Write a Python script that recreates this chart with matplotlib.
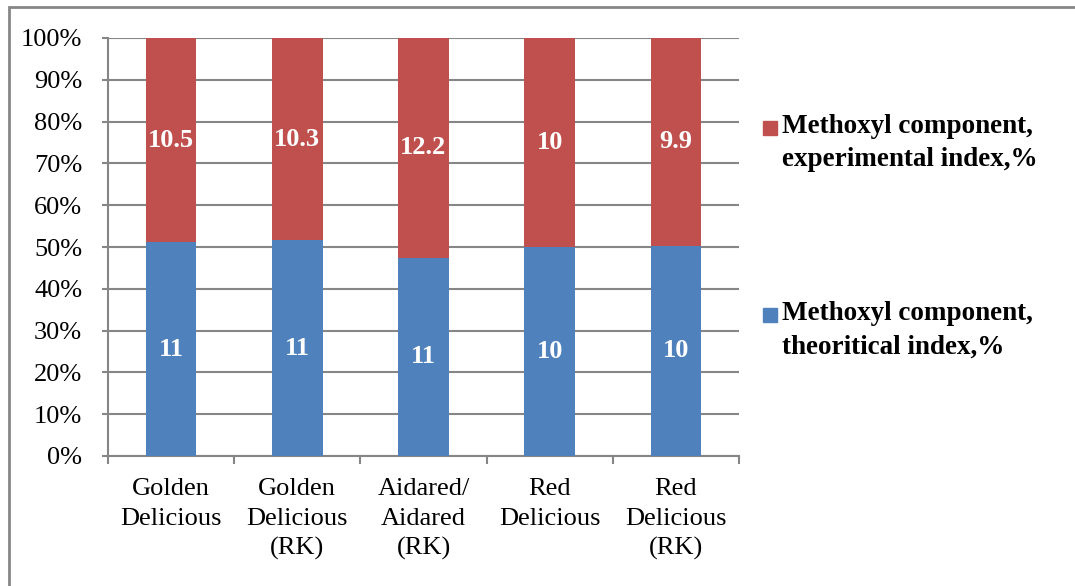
import matplotlib
matplotlib.use("Agg")
import matplotlib.pyplot as plt
import numpy as np
from matplotlib.patches import Rectangle

plt.rcParams['font.family'] = ['Liberation Serif', 'DejaVu Serif']

categories = ["Golden\nDelicious", "Golden\nDelicious\n(RK)", "Aidared/\nAidared\n(RK)",
              "Red\nDelicious", "Red\nDelicious\n(RK)"]
theoretical = [11, 11, 11, 10, 10]
experimental = [10.5, 10.3, 12.2, 10, 9.9]
labels_theo = ["11", "11", "11", "10", "10"]
labels_exp = ["10.5", "10.3", "12.2", "10", "9.9"]

blue = "#4F81BD"
red = "#C0504D"
grid_c = "#868686"

theo = np.array(theoretical, dtype=float)
expe = np.array(experimental, dtype=float)
tot = theo + expe
p_theo = theo / tot * 100
p_exp = expe / tot * 100

fig = plt.figure(figsize=(10.75, 5.86), dpi=100)
ax = fig.add_axes([108 / 1075, 1 - 456 / 586, 631 / 1075, 418 / 586])

x = np.arange(len(categories))
ax.bar(x, p_theo, width=0.4, color=blue, zorder=3)
ax.bar(x, p_exp, width=0.4, bottom=p_theo, color=red, zorder=3)

for i in range(len(x)):
    ax.text(x[i], p_theo[i] / 2, labels_theo[i], ha="center", va="center",
            color="white", fontweight="bold", fontsize=19, zorder=4)
    ax.text(x[i], p_theo[i] + p_exp[i] / 2, labels_exp[i], ha="center", va="center",
            color="white", fontweight="bold", fontsize=19, zorder=4)

ax.set_xlim(-0.5, len(x) - 0.5)
ax.set_ylim(0, 100)
ax.set_yticks(np.arange(0, 101, 10))
ax.set_yticklabels([f"{v}%" for v in range(0, 101, 10)], fontsize=19)
ax.yaxis.grid(True, color=grid_c, linewidth=1.5, zorder=0)

ax.set_xticks(x)
ax.set_xticklabels(categories, fontsize=19, va="top", linespacing=1.43)
ax.set_xticks(np.arange(-0.5, len(x), 1), minor=True)
ax.tick_params(axis="x", which="major", length=0, pad=16)
ax.tick_params(axis="x", which="minor", length=6, width=1.5, color=grid_c)
ax.tick_params(axis="y", length=4.5, width=1.5, color=grid_c, pad=14)

for s in ["top", "right"]:
    ax.spines[s].set_visible(False)
for s in ["left", "bottom"]:
    ax.spines[s].set_color(grid_c)
    ax.spines[s].set_linewidth(1.5)

# legend
colors = [red, blue]
names = ["Methoxyl component,\nexperimental index,%", "Methoxyl component,\ntheoritical index,%"]
for col, name, yc in zip(colors, names, [143, 330]):
    fig.patches.append(Rectangle((763 / 1075, 1 - (yc - 15 + 7) / 586), 14 / 1075, 14 / 586,
                                 transform=fig.transFigure, color=col))
    fig.text(782 / 1075, 1 - yc / 586, name, fontsize=19.5, fontweight="bold",
             va="center", ha="left", linespacing=1.45)

# outer chart frame (only top and left edges show)
fig.patches.append(Rectangle((9 / 1075, -0.1), 1.2, 1 - 7 / 586 + 0.1,
                             transform=fig.transFigure, fill=False,
                             edgecolor=grid_c, linewidth=2))

fig.savefig("out.png", dpi=100)
